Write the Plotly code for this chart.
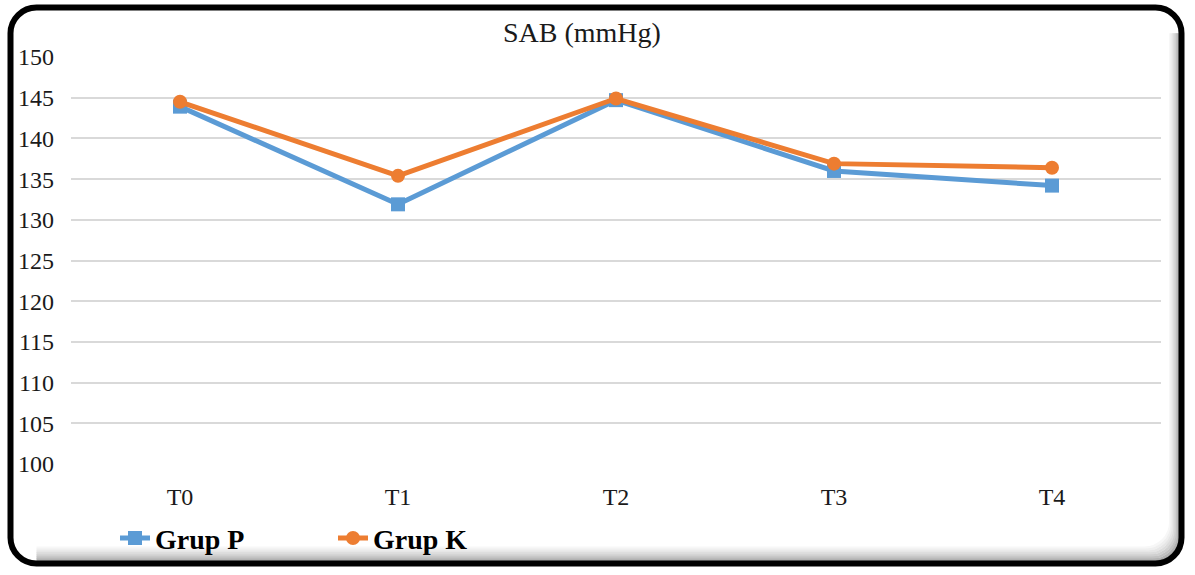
import plotly.graph_objects as go

categories = ["T0", "T1", "T2", "T3", "T4"]
grup_p = [143.9, 131.9, 144.7, 136.0, 134.2]
grup_k = [144.5, 135.4, 144.9, 136.9, 136.4]
series_names = ["Grup P", "Grup K"]
title_text = "SAB (mmHg)"

BLUE = "#5B9BD5"
ORANGE = "#ED7D31"

# plot area in pixels
L, R, T, B = 71, 1161, 57, 468
W, H = R - L, B - T


def px(x):
    return (x - L) / W


def py(y):
    return (B - y) / H


def rounded_rect(x0, y0, x1, y1, r):
    k = 0.5523 * r
    pts = [
        f"M {px(x0 + r)},{py(y0)}",
        f"L {px(x1 - r)},{py(y0)}",
        f"C {px(x1 - r + k)},{py(y0)} {px(x1)},{py(y0 + r - k)} {px(x1)},{py(y0 + r)}",
        f"L {px(x1)},{py(y1 - r)}",
        f"C {px(x1)},{py(y1 - r + k)} {px(x1 - r + k)},{py(y1)} {px(x1 - r)},{py(y1)}",
        f"L {px(x0 + r)},{py(y1)}",
        f"C {px(x0 + r - k)},{py(y1)} {px(x0)},{py(y1 - r + k)} {px(x0)},{py(y1 - r)}",
        f"L {px(x0)},{py(y0 + r)}",
        f"C {px(x0)},{py(y0 + r - k)} {px(x0 + r - k)},{py(y0)} {px(x0 + r)},{py(y0)}",
        "Z",
    ]
    return " ".join(pts)


def br_path(x0, y0, x1, y1, r):
    # right side + bottom-right corner + bottom side (open)
    k = 0.5523 * r
    pts = [
        f"M {px(x1)},{py(y0 + r)}",
        f"L {px(x1)},{py(y1 - r)}",
        f"C {px(x1)},{py(y1 - r + k)} {px(x1 - r + k)},{py(y1)} {px(x1 - r)},{py(y1)}",
        f"L {px(x0 + r)},{py(y1)}",
    ]
    return " ".join(pts)


fig = go.Figure()
fig.add_trace(go.Scatter(
    x=categories, y=grup_p, name=series_names[0], mode="lines+markers",
    line=dict(color=BLUE, width=5),
    marker=dict(symbol="square", size=14, color=BLUE),
))
fig.add_trace(go.Scatter(
    x=categories, y=grup_k, name=series_names[1], mode="lines+markers",
    line=dict(color=ORANGE, width=5),
    marker=dict(symbol="circle", size=14, color=ORANGE),
))

shapes = []
shadow_cols = ["#f7f7f7", "#efefef", "#e6e6e6", "#dcdcdc", "#d0d0d0",
               "#c2c2c2", "#b2b2b2", "#9e9e9e"]
n = len(shadow_cols)
for i, c in enumerate(shadow_cols):
    off = n - i
    shapes.append(dict(
        type="path", xref="paper", yref="paper",
        path=br_path(10.5, 7, 1181.5 - off * 1.4, 568.5 - off * 2.0, 26),
        line=dict(color=c, width=2.5),
    ))
shapes.append(dict(
    type="path", xref="paper", yref="paper",
    path=rounded_rect(10.5, 7, 1181.5, 568.5, 26),
    line=dict(color="#000000", width=6),
))

fig.update_layout(
    width=1195, height=575,
    margin=dict(l=L, r=1195 - R, t=T, b=575 - B),
    paper_bgcolor="white", plot_bgcolor="white",
    font=dict(family="Liberation Serif", color="#1a1a1a"),
    showlegend=True,
    legend=dict(
        orientation="h", x=px(115), xanchor="left", y=py(543), yanchor="middle",
        font=dict(family="Liberation Serif", size=28, color="#000000", weight="bold"),
        bgcolor="rgba(0,0,0,0)", entrywidth=173, entrywidthmode="pixels",
    ),
    xaxis=dict(
        type="category", range=[-0.5, 4.5], showgrid=False, zeroline=False,
        showline=False, ticks="", tickfont=dict(size=24, color="#1a1a1a"),
        ticklabelstandoff=16, fixedrange=True,
    ),
    yaxis=dict(
        range=[100, 150], dtick=5, showgrid=True, gridcolor="#d9d9d9",
        gridwidth=1.5, zeroline=False, showline=False, ticks="",
        tickfont=dict(size=24, color="#1a1a1a"), ticklabelstandoff=16,
        fixedrange=True,
    ),
    annotations=[dict(
        text=title_text, xref="paper", yref="paper", x=px(582), y=py(32),
        xanchor="center", yanchor="middle", showarrow=False,
        font=dict(family="Liberation Serif", size=28, color="#1a1a1a"),
    )],
    shapes=shapes,
)

fig.write_html("out.html")
